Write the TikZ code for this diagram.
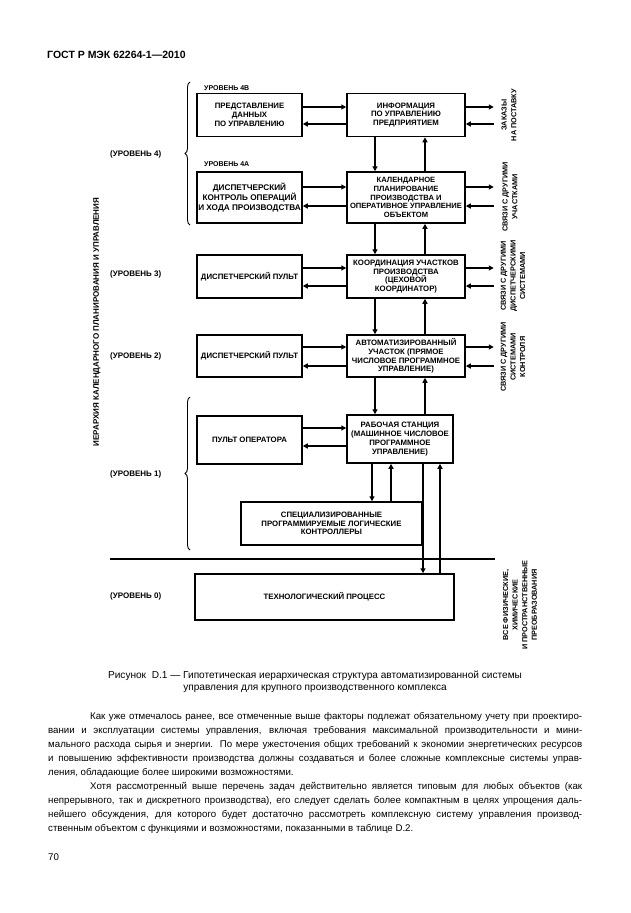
\documentclass[tikz,border=0pt]{standalone}
\usepackage{fontspec}
\setmainfont{Liberation Sans}
\usetikzlibrary{arrows.meta,decorations.pathreplacing}
\begin{document}
\begin{tikzpicture}[x=1pt,y=-1pt,
  box/.style={draw,line width=1.5pt,inner sep=1pt,align=center,
    font=\bfseries\fontsize{7.8}{8.8}\selectfont},
  conn/.style={line width=1.8pt,-{Triangle[length=5pt,width=5pt]}},
  lvl/.style={anchor=west,inner sep=0pt,font=\bfseries\fontsize{8}{9}\selectfont},
  sublvl/.style={anchor=west,inner sep=0pt,font=\bfseries\fontsize{7}{8}\selectfont},
  side/.style={rotate=90,align=center,inner sep=0pt,font=\bfseries\fontsize{7.3}{9.6}\selectfont},
  bracestyle/.style={line width=0.9pt,decorate,decoration={brace,amplitude=5pt}},
  bodyline/.style={anchor=west,inner sep=0pt,font=\fontsize{9.7}{12}\selectfont},
]
\fill[white] (0,0) rectangle (630,913);
\useasboundingbox (0,0) rectangle (630,913);

% header
\node[anchor=west,inner sep=0pt,font=\bfseries\fontsize{10.5}{12}\selectfont] (hdr) at (47,55) {ГОСТ Р МЭК 62264-1—2010};

% level labels
\node[sublvl] (t4b) at (204,88) {УРОВЕНЬ 4В};
\node[sublvl] (t4a) at (204,164) {УРОВЕНЬ 4А};
\node[lvl] (lv4) at (110,154) {(УРОВЕНЬ 4)};
\node[lvl] (lv3) at (110,274) {(УРОВЕНЬ 3)};
\node[lvl] (lv2) at (110,356) {(УРОВЕНЬ 2)};
\node[lvl] (lv1) at (110,474) {(УРОВЕНЬ 1)};
\node[lvl] (lv0) at (110,596) {(УРОВЕНЬ 0)};

\node[rotate=90,inner sep=0pt,font=\bfseries\fontsize{8}{9}\selectfont] (hier) at (97,322) {ИЕРАРХИЯ КАЛЕНДАРНОГО ПЛАНИРОВАНИЯ И УПРАВЛЕНИЯ};

% braces
\coordinate (br4a) at (190,225);
\coordinate (br4b) at (190,82);
\coordinate (br1a) at (190,550);
\coordinate (br1b) at (190,397);
\draw[bracestyle] (br4a) -- (br4b);
\draw[bracestyle] (br1a) -- (br1b);

% boxes
\node[box,minimum width=105,minimum height=43] (b4l) at (249.5,115) {ПРЕДСТАВЛЕНИЕ\\ДАННЫХ\\ПО УПРАВЛЕНИЮ};
\node[box,minimum width=118,minimum height=43] (b4r) at (406,115) {ИНФОРМАЦИЯ\\ПО УПРАВЛЕНИЮ\\ПРЕДПРИЯТИЕМ};
\node[box,minimum width=105,minimum height=51,font=\bfseries\fontsize{8.2}{10.2}\selectfont] (a4l) at (249.5,197.5) {ДИСПЕТЧЕРСКИЙ\\КОНТРОЛЬ ОПЕРАЦИЙ\\И ХОДА ПРОИЗВОДСТВА};
\node[box,minimum width=118,minimum height=51,font=\bfseries\fontsize{7.6}{8.7}\selectfont] (a4r) at (406,197.5) {КАЛЕНДАРНОЕ\\ПЛАНИРОВАНИЕ\\ПРОИЗВОДСТВА И\\ОПЕРАТИВНОЕ УПРАВЛЕНИЕ\\ОБЪЕКТОМ};
\node[box,minimum width=105,minimum height=43] (l3l) at (249.5,276.5) {ДИСПЕТЧЕРСКИЙ ПУЛЬТ};
\node[box,minimum width=118,minimum height=43] (l3r) at (406,276.5) {КООРДИНАЦИЯ УЧАСТКОВ\\ПРОИЗВОДСТВА\\(ЦЕХОВОЙ\\КООРДИНАТОР)};
\node[box,minimum width=105,minimum height=42] (l2l) at (249.5,356) {ДИСПЕТЧЕРСКИЙ ПУЛЬТ};
\node[box,minimum width=118,minimum height=42] (l2r) at (406,356) {АВТОМАТИЗИРОВАННЫЙ\\УЧАСТОК (ПРЯМОЕ\\ЧИСЛОВОЕ ПРОГРАММНОЕ\\УПРАВЛЕНИЕ)};
\node[box,minimum width=105,minimum height=48] (l1l) at (249.5,440) {ПУЛЬТ ОПЕРАТОРА};
\node[box,minimum width=106,minimum height=48] (l1r) at (400,439) {РАБОЧАЯ СТАНЦИЯ\\(МАШИННОЕ ЧИСЛОВОЕ\\ПРОГРАММНОЕ\\УПРАВЛЕНИЕ)};
\node[box,minimum width=181,minimum height=43] (plc) at (331.5,523.5) {СПЕЦИАЛИЗИРОВАННЫЕ\\ПРОГРАММИРУЕМЫЕ ЛОГИЧЕСКИЕ\\КОНТРОЛЛЕРЫ};
\node[box,minimum width=259,minimum height=46] (proc) at (324.5,597) {ТЕХНОЛОГИЧЕСКИЙ ПРОЦЕСС};

% horizontal arrows between columns
\draw[conn] ([yshift=8]b4l.east) -- ([yshift=8]b4r.west);
\draw[conn] ([yshift=-9]b4r.west) -- ([yshift=-9]b4l.east);
\draw[conn] ([yshift=10.5]a4l.east) -- ([yshift=10.5]a4r.west);
\draw[conn] ([yshift=-8.5]a4r.west) -- ([yshift=-8.5]a4l.east);
\draw[conn] ([yshift=8.5]l3l.east) -- ([yshift=8.5]l3r.west);
\draw[conn] ([yshift=-9.5]l3r.west) -- ([yshift=-9.5]l3l.east);
\draw[conn] ([yshift=9]l2l.east) -- ([yshift=9]l2r.west);
\draw[conn] ([yshift=-10]l2r.west) -- ([yshift=-10]l2l.east);
\draw[conn] ([yshift=12]l1l.east) -- ([yshift=11]l1r.west);
\draw[conn] ([yshift=-7]l1r.west) -- ([yshift=-6]l1l.east);

% external arrows on the right
\draw[conn] ([yshift=8]b4r.east) -- ++(28,0);
\draw[conn] ([yshift=-9]b4r.east) ++(28,0) -- ([yshift=-9]b4r.east);
\draw[conn] ([yshift=10.5]a4r.east) -- ++(28,0);
\draw[conn] ([yshift=-8.5]a4r.east) ++(28,0) -- ([yshift=-8.5]a4r.east);
\draw[conn] ([yshift=8.5]l3r.east) -- ++(28,0);
\draw[conn] ([yshift=-9.5]l3r.east) ++(28,0) -- ([yshift=-9.5]l3r.east);
\draw[conn] ([yshift=9]l2r.east) -- ++(28,0);
\draw[conn] ([yshift=-10]l2r.east) ++(28,0) -- ([yshift=-10]l2r.east);

% vertical arrows between levels
\draw[conn] ([xshift=-31]b4r.south) -- ([xshift=-31]a4r.north);
\draw[conn] ([xshift=19]a4r.north) -- ([xshift=19]b4r.south);
\draw[conn] ([xshift=-31]a4r.south) -- ([xshift=-31]l3r.north);
\draw[conn] ([xshift=19]l3r.north) -- ([xshift=19]a4r.south);
\draw[conn] ([xshift=-31]l3r.south) -- ([xshift=-31]l2r.north);
\draw[conn] ([xshift=19]l2r.north) -- ([xshift=19]l3r.south);
\draw[conn] ([xshift=-31]l2r.south) -- ([xshift=-25]l1r.north);
\draw[conn] ([xshift=25]l1r.north) -- ([xshift=19]l2r.south);

% workstation to PLC
\draw[conn] ([xshift=-28]l1r.south) -- ([xshift=40.5]plc.north);
\draw[conn] ([xshift=59.5]plc.north) -- ([xshift=-9]l1r.south);
% workstation to process
\draw[conn] ([xshift=23]l1r.south) -- ([xshift=98.5]proc.north);
\draw[conn] ([xshift=115.5]proc.north) -- ([xshift=40]l1r.south);

% thick separator
\coordinate (sepA) at (110,559);
\coordinate (sepB) at (495,559);
\draw[line width=2.6pt] (sepA) -- (sepB);

% side labels
\node[side] (s4b) at (509,115) {ЗАКАЗЫ\\НА ПОСТАВКУ};
\node[side] (s4a) at (510,197) {СВЯЗИ С ДРУГИМИ\\УЧАСТКАМИ};
\node[side] (s3) at (513,276) {СВЯЗИ С ДРУГИМИ\\ДИСПЕТЧЕРСКИМИ\\СИСТЕМАМИ};
\node[side] (s2) at (513,357) {СВЯЗИ С ДРУГИМИ\\СИСТЕМАМИ\\КОНТРОЛЯ};
\node[side] (s0) at (520,605) {ВСЕ ФИЗИЧЕСКИЕ,\\ХИМИЧЕСКИЕ\\И ПРОСТРАНСТВЕННЫЕ\\ПРЕОБРАЗОВАНИЯ};

% caption
\node[align=center,inner sep=0pt,font=\fontsize{10.1}{12}\selectfont] (cap) at (315,682) {Рисунок~~D.1 — Гипотетическая иерархическая структура автоматизированной системы\\управления для крупного производственного комплекса};

% body text
\node[bodyline] (p1) at (90,717) {\makebox[492pt][s]{Как уже отмечалось ранее, все отмеченные выше факторы подлежат обязательному учету при проектиро-}};
\node[bodyline] (p2) at (48,731) {\makebox[534pt][s]{вании и эксплуатации системы управления, включая требования максимальной производительности и мини-}};
\node[bodyline] (p3) at (48,745) {\makebox[534pt][s]{мального расхода сырья и энергии. По мере ужесточения общих требований к экономии энергетических ресурсов}};
\node[bodyline] (p4) at (48,759) {\makebox[534pt][s]{и повышению эффективности производства должны создаваться и более сложные комплексные системы управ-}};
\node[bodyline] (p5) at (48,773) {ления, обладающие более широкими возможностями.};
\node[bodyline] (p6) at (90,787) {\makebox[492pt][s]{Хотя рассмотренный выше перечень задач действительно является типовым для любых объектов (как}};
\node[bodyline] (p7) at (48,801) {\makebox[534pt][s]{непрерывного, так и дискретного производства), его следует сделать более компактным в целях упрощения даль-}};
\node[bodyline] (p8) at (48,815) {\makebox[534pt][s]{нейшего обсуждения, для которого будет достаточно рассмотреть комплексную систему управления производ-}};
\node[bodyline] (p9) at (48,829) {ственным объектом с функциями и возможностями, показанными в таблице D.2.};

\node[bodyline] (pg) at (48,857) {70};
\end{tikzpicture}
\end{document}
